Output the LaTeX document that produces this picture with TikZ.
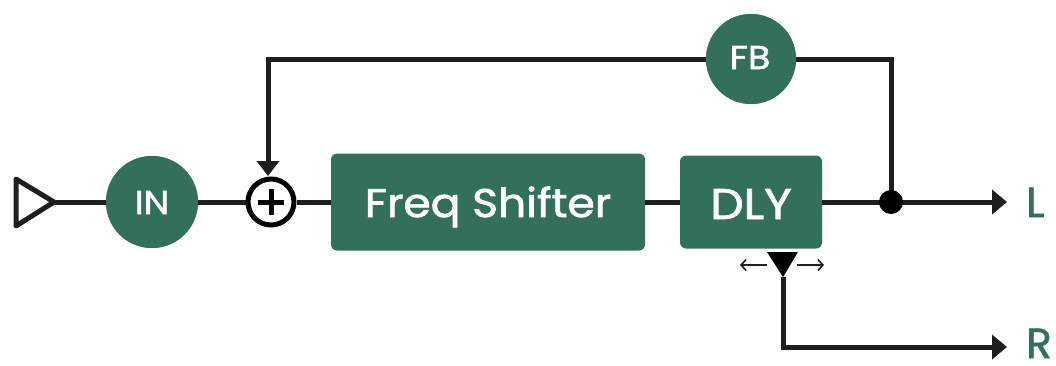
\documentclass[tikz,border=0pt]{standalone}
\usepackage{fontspec}
\setmainfont{Poppins}[FakeBold=1.6]
\usetikzlibrary{arrows.meta}
\definecolor{dgreen}{RGB}{51,112,90}
\definecolor{wire}{RGB}{30,30,30}
\newcommand{\wtext}[2]{\scalebox{#1}[1]{#2}}
\begin{document}
\begin{tikzpicture}[x=1pt,y=-1pt,
  wireline/.style={draw=wire,line width=5pt},
  arr/.style={wireline,-{Triangle[length=15pt,width=24pt]}},
  smallarr/.style={draw=wire,line width=1.6pt,-{Straight Barb[length=5pt,width=11pt]}},
  gcirc/.style={circle,fill=dgreen,minimum size=92pt,inner sep=0pt},
  gbox/.style={rounded corners=6pt,fill=dgreen,inner sep=0pt},
  wlabel/.style={text=white,anchor=base,inner sep=0pt},
  outlabel/.style={text=dgreen,anchor=base west,inner sep=0pt,font=\fontsize{42}{42}\selectfont}]
\useasboundingbox (0,0) rectangle (1056,365);
% nodes
\coordinate (tri) at (54,202);
\node[gcirc] (in) at (152,202) {};
\node[circle,draw=black,line width=5pt,minimum size=46pt,inner sep=0pt] (sum) at (271,202) {};
\node[gbox,minimum width=314pt,minimum height=97pt] (fs) at (488,202) {};
\node[gbox,minimum width=142pt,minimum height=93pt] (dly) at (751,202) {};
\node[gcirc,minimum size=90pt] (fb) at (751,59) {};
\coordinate (junc) at (891,202);
\coordinate (tap) at (783,277);
\coordinate (lend) at (1007,202);
\coordinate (rend) at (1007,347);
% wires
\draw[wireline,line join=round] (16,179) -- (16,226) -- (tri) -- cycle;
\draw[wireline] (tri) -- (in.west);
\draw[wireline] (in.east) -- (sum.west);
\draw[wireline] (sum.east) -- (fs.west);
\draw[wireline] (fs.east) -- (dly.west);
\draw[wireline] (dly.east) -- (junc);
\draw[arr] (junc) -- (lend);
\draw[wireline,line join=miter] (junc) -- (891,59) -- (fb.east);
\draw[arr,-{Triangle[length=15pt,width=22pt]},line join=miter] (fb.west) -- (268,59) -- (268,176);
\fill[black] (junc) circle (12pt);
% plus sign
\draw[black,line width=5pt] ([xshift=-13pt]sum.center) -- ([xshift=13pt]sum.center);
\draw[black,line width=5pt] ([yshift=-13pt]sum.center) -- ([yshift=13pt]sum.center);
% tap
\fill[black] (767,252) -- (798,252) -- (tap) -- cycle;
\draw[arr,line join=miter] (tap) -- (783,347) -- (rend);
\draw[smallarr] (767,265) -- (740,265);
\draw[smallarr] (797,265) -- (824,265);
% redraw circles on top
\node[gcirc] at (in) {};
\node[gcirc,minimum size=90pt] at (fb) {};
% labels
\node[wlabel,font=\fontsize{33}{33}\selectfont] (inl) at (152,214) {\wtext{1.1}{IN}};
\node[wlabel,font=\fontsize{33}{33}\selectfont] (fbl) at (750,69) {\wtext{1.1}{FB}};
\node[wlabel,font=\fontsize{40}{40}\selectfont] (fsl) at (488,217) {\wtext{1.1}{Freq Shifter}};
\node[wlabel,font=\fontsize{43}{43}\selectfont] (dlyl) at (751,219) {\wtext{1.1}{DLY}};
\node[outlabel] (L) at (1026,217) {L};
\node[outlabel] (R) at (1026,358) {R};
\end{tikzpicture}
\end{document}
